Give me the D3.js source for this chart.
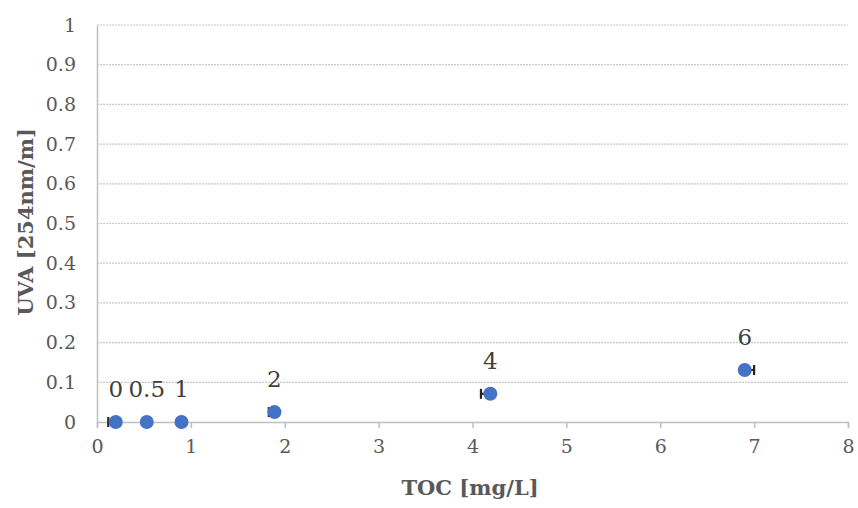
<!DOCTYPE html>
<html><head><meta charset="utf-8">
<script src="https://cdn.jsdelivr.net/npm/d3@7"></script>
<style>body{margin:0;background:#fff}svg{display:block}</style>
</head><body><svg id="c" width="858" height="508"></svg>
<script>
const labels = ["0","0.5","1","2","4","6"];
const tocValues = [0.2, 0.53, 0.9, 1.89, 4.19, 6.9];
const uvaValues = [0.0, 0.0, 0.0, 0.025, 0.071, 0.131];
const tocErrMinus = [0.08, 0, 0, 0.06, 0.1, 0];
const tocErrPlus = [0, 0, 0, 0, 0, 0.1];
const xTicks = [0,1,2,3,4,5,6,7,8];
const yTicks = [0,0.1,0.2,0.3,0.4,0.5,0.6,0.7,0.8,0.9,1];

const svg = d3.select("#c");
const font = "'DejaVu Serif', serif";
const x = d3.scaleLinear().domain([0,8]).range([97,848]);
const y = d3.scaleLinear().domain([0,1]).range([422,25]);

// gridlines
svg.append("g").selectAll("line").data(yTicks.filter(d=>d>0)).join("line")
  .attr("x1",x(0)).attr("x2",x(8)).attr("y1",d=>y(d)).attr("y2",d=>y(d))
  .attr("stroke","#c8c8c8").attr("stroke-width",1.2).attr("stroke-dasharray","2,1");

// x axis
const xa = svg.append("g").attr("transform",`translate(0,${y(0)})`)
  .call(d3.axisBottom(x).tickValues(xTicks).tickSize(6).tickPadding(12).tickFormat(d3.format("d")));
xa.select(".domain").attr("stroke","#bfbfbf").attr("stroke-width",1.5);
xa.selectAll(".tick line").attr("stroke","#bfbfbf").attr("stroke-width",1.5);
xa.selectAll("text").attr("font-family",font).attr("font-size",19).attr("fill","#595959");

// y axis
const ya = svg.append("g").attr("transform",`translate(${x(0)},0)`)
  .call(d3.axisLeft(y).tickValues(yTicks).tickSize(0).tickPadding(21).tickFormat(d=>d3.format("~g")(d)));
ya.select(".domain").attr("stroke","#bfbfbf").attr("stroke-width",1.5);
ya.selectAll("text").attr("font-family",font).attr("font-size",19).attr("fill","#595959");

// error bars
const pts = labels.map((l,i)=>({l, x:tocValues[i], y:uvaValues[i], em:tocErrMinus[i], ep:tocErrPlus[i]}));
const eb = svg.append("g").attr("stroke","#262626").attr("stroke-width",2.2);
pts.forEach(p=>{
  if(p.em>0){
    eb.append("line").attr("x1",x(p.x-p.em)).attr("x2",x(p.x)).attr("y1",y(p.y)).attr("y2",y(p.y));
    eb.append("line").attr("x1",x(p.x-p.em)).attr("x2",x(p.x-p.em)).attr("y1",y(p.y)-5).attr("y2",y(p.y)+5);
  }
  if(p.ep>0){
    eb.append("line").attr("x1",x(p.x)).attr("x2",x(p.x+p.ep)).attr("y1",y(p.y)).attr("y2",y(p.y));
    eb.append("line").attr("x1",x(p.x+p.ep)).attr("x2",x(p.x+p.ep)).attr("y1",y(p.y)-5).attr("y2",y(p.y)+5);
  }
});

// points
svg.append("g").selectAll("circle").data(pts).join("circle")
  .attr("cx",d=>x(d.x)).attr("cy",d=>y(d.y)).attr("r",7)
  .attr("fill","#4472c4");

// data labels
svg.append("g").selectAll("text").data(pts).join("text")
  .attr("x",d=>x(d.x)).attr("y",d=>y(d.y)-25)
  .attr("text-anchor","middle").attr("font-family",font).attr("font-size",23).attr("fill","#404040")
  .text(d=>d.l);

// axis titles
svg.append("text").attr("x",470).attr("y",495).attr("text-anchor","middle")
  .attr("font-family",font).attr("font-weight","bold").attr("font-size",21).attr("fill","#595959")
  .text("TOC [mg/L]");
svg.append("text").attr("transform","translate(33,222) rotate(-90)").attr("text-anchor","middle")
  .attr("font-family",font).attr("font-weight","bold").attr("font-size",21).attr("fill","#595959")
  .text("UVA [254nm/m]");
</script></body></html>
